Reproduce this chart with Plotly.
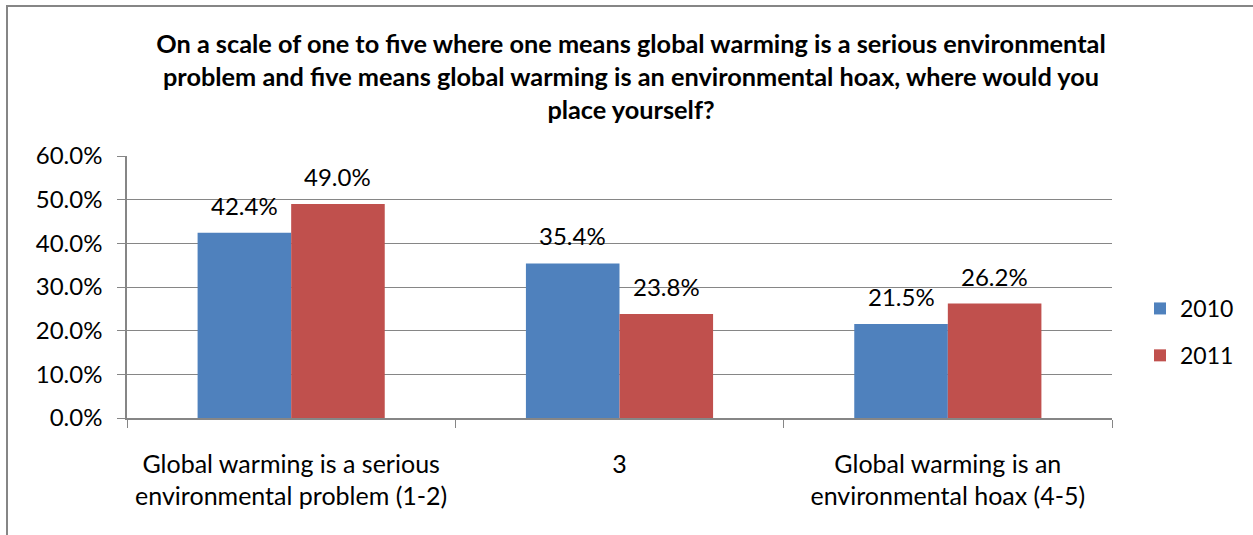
import plotly.graph_objects as go

categories = ["Global warming is a serious<br>environmental problem (1-2)", "3",
              "Global warming is an<br>environmental hoax (4-5)"]
series_names = ["2010", "2011"]
values_2010 = [0.424, 0.354, 0.215]
values_2011 = [0.490, 0.238, 0.262]
colors = ["#4F81BD", "#C0504D"]
title = ("On a scale of one to five where one means global warming is a serious environmental<br>"
         "problem and five means global warming is an environmental hoax, where would you<br>"
         "place yourself?")

FONT = "Lato"
W, H = 1253, 535
L, R, T, B = 127, 141, 156, 117
PW, PH = W - L - R, H - T - B
BARGAP = 0.43
bar_px = PW / len(categories) * (1 - BARGAP) / 2

fig = go.Figure()
annotations = []
for i, (name, vals, col) in enumerate(zip(series_names, [values_2010, values_2011], colors)):
    fig.add_trace(go.Bar(
        x=categories, y=vals, name=name, marker=dict(color=col, line=dict(width=0)),
        legendgroup=name,
    ))
    shift = (i - 0.5) * bar_px
    for idx, v in enumerate(vals):
        annotations.append(dict(
            x=idx, y=v, xref="x", yref="y", text=f"{v*100:.1f}%", showarrow=False,
            xanchor="center", yanchor="bottom", xshift=shift, yshift=11,
            font=dict(size=24, color="#000000", family=FONT)))

fig.update_layout(
    width=W, height=H,
    margin=dict(l=L, r=R, t=T, b=B, autoexpand=False),
    paper_bgcolor="white", plot_bgcolor="white",
    barmode="group", bargap=BARGAP, bargroupgap=0,
    font=dict(family=FONT, size=25, color="#000000"),
    title=dict(text=title, x=631 / W, xanchor="center", y=1 - 53 / H, yanchor="top",
               font=dict(family=FONT, size=25.3, color="#000000", weight="bold")),
    showlegend=True,
    legend=dict(x=(1140 - L) / PW, y=(418 - 332) / PH, xanchor="left", yanchor="middle",
                font=dict(size=23, family=FONT), tracegroupgap=14,
                itemwidth=30, bgcolor="rgba(0,0,0,0)"),
    xaxis=dict(type="category", categoryorder="array", categoryarray=categories,
               range=[-0.5, len(categories) - 0.5],
               tickson="boundaries", ticks="outside", ticklen=8, tickangle=0,
               tickcolor="#868686", showline=True, linecolor="#868686", linewidth=1.5,
               tickfont=dict(size=25, family=FONT), showgrid=False, automargin=False,
               ticklabelstandoff=23),
    yaxis=dict(range=[0, 0.6], dtick=0.1, tickformat=".1%", ticks="outside", ticklen=8,
               tickcolor="#868686", showline=True, linecolor="#868686", linewidth=1.5,
               showgrid=True, gridcolor="#868686", gridwidth=1, automargin=False,
               tickfont=dict(size=24, family=FONT), zeroline=False, ticklabelstandoff=10),
    annotations=annotations,
    shapes=[dict(type="rect", xref="paper", yref="paper",
                 x0=(7 - L) / PW, x1=1.3, y0=-0.6, y1=(418 - 6) / PH,
                 line=dict(color="#868686", width=2), fillcolor="rgba(0,0,0,0)", layer="below")],
)
fig.write_html("out.html", config={"displayModeBar": False},
               post_script="document.body.style.margin='0';")
